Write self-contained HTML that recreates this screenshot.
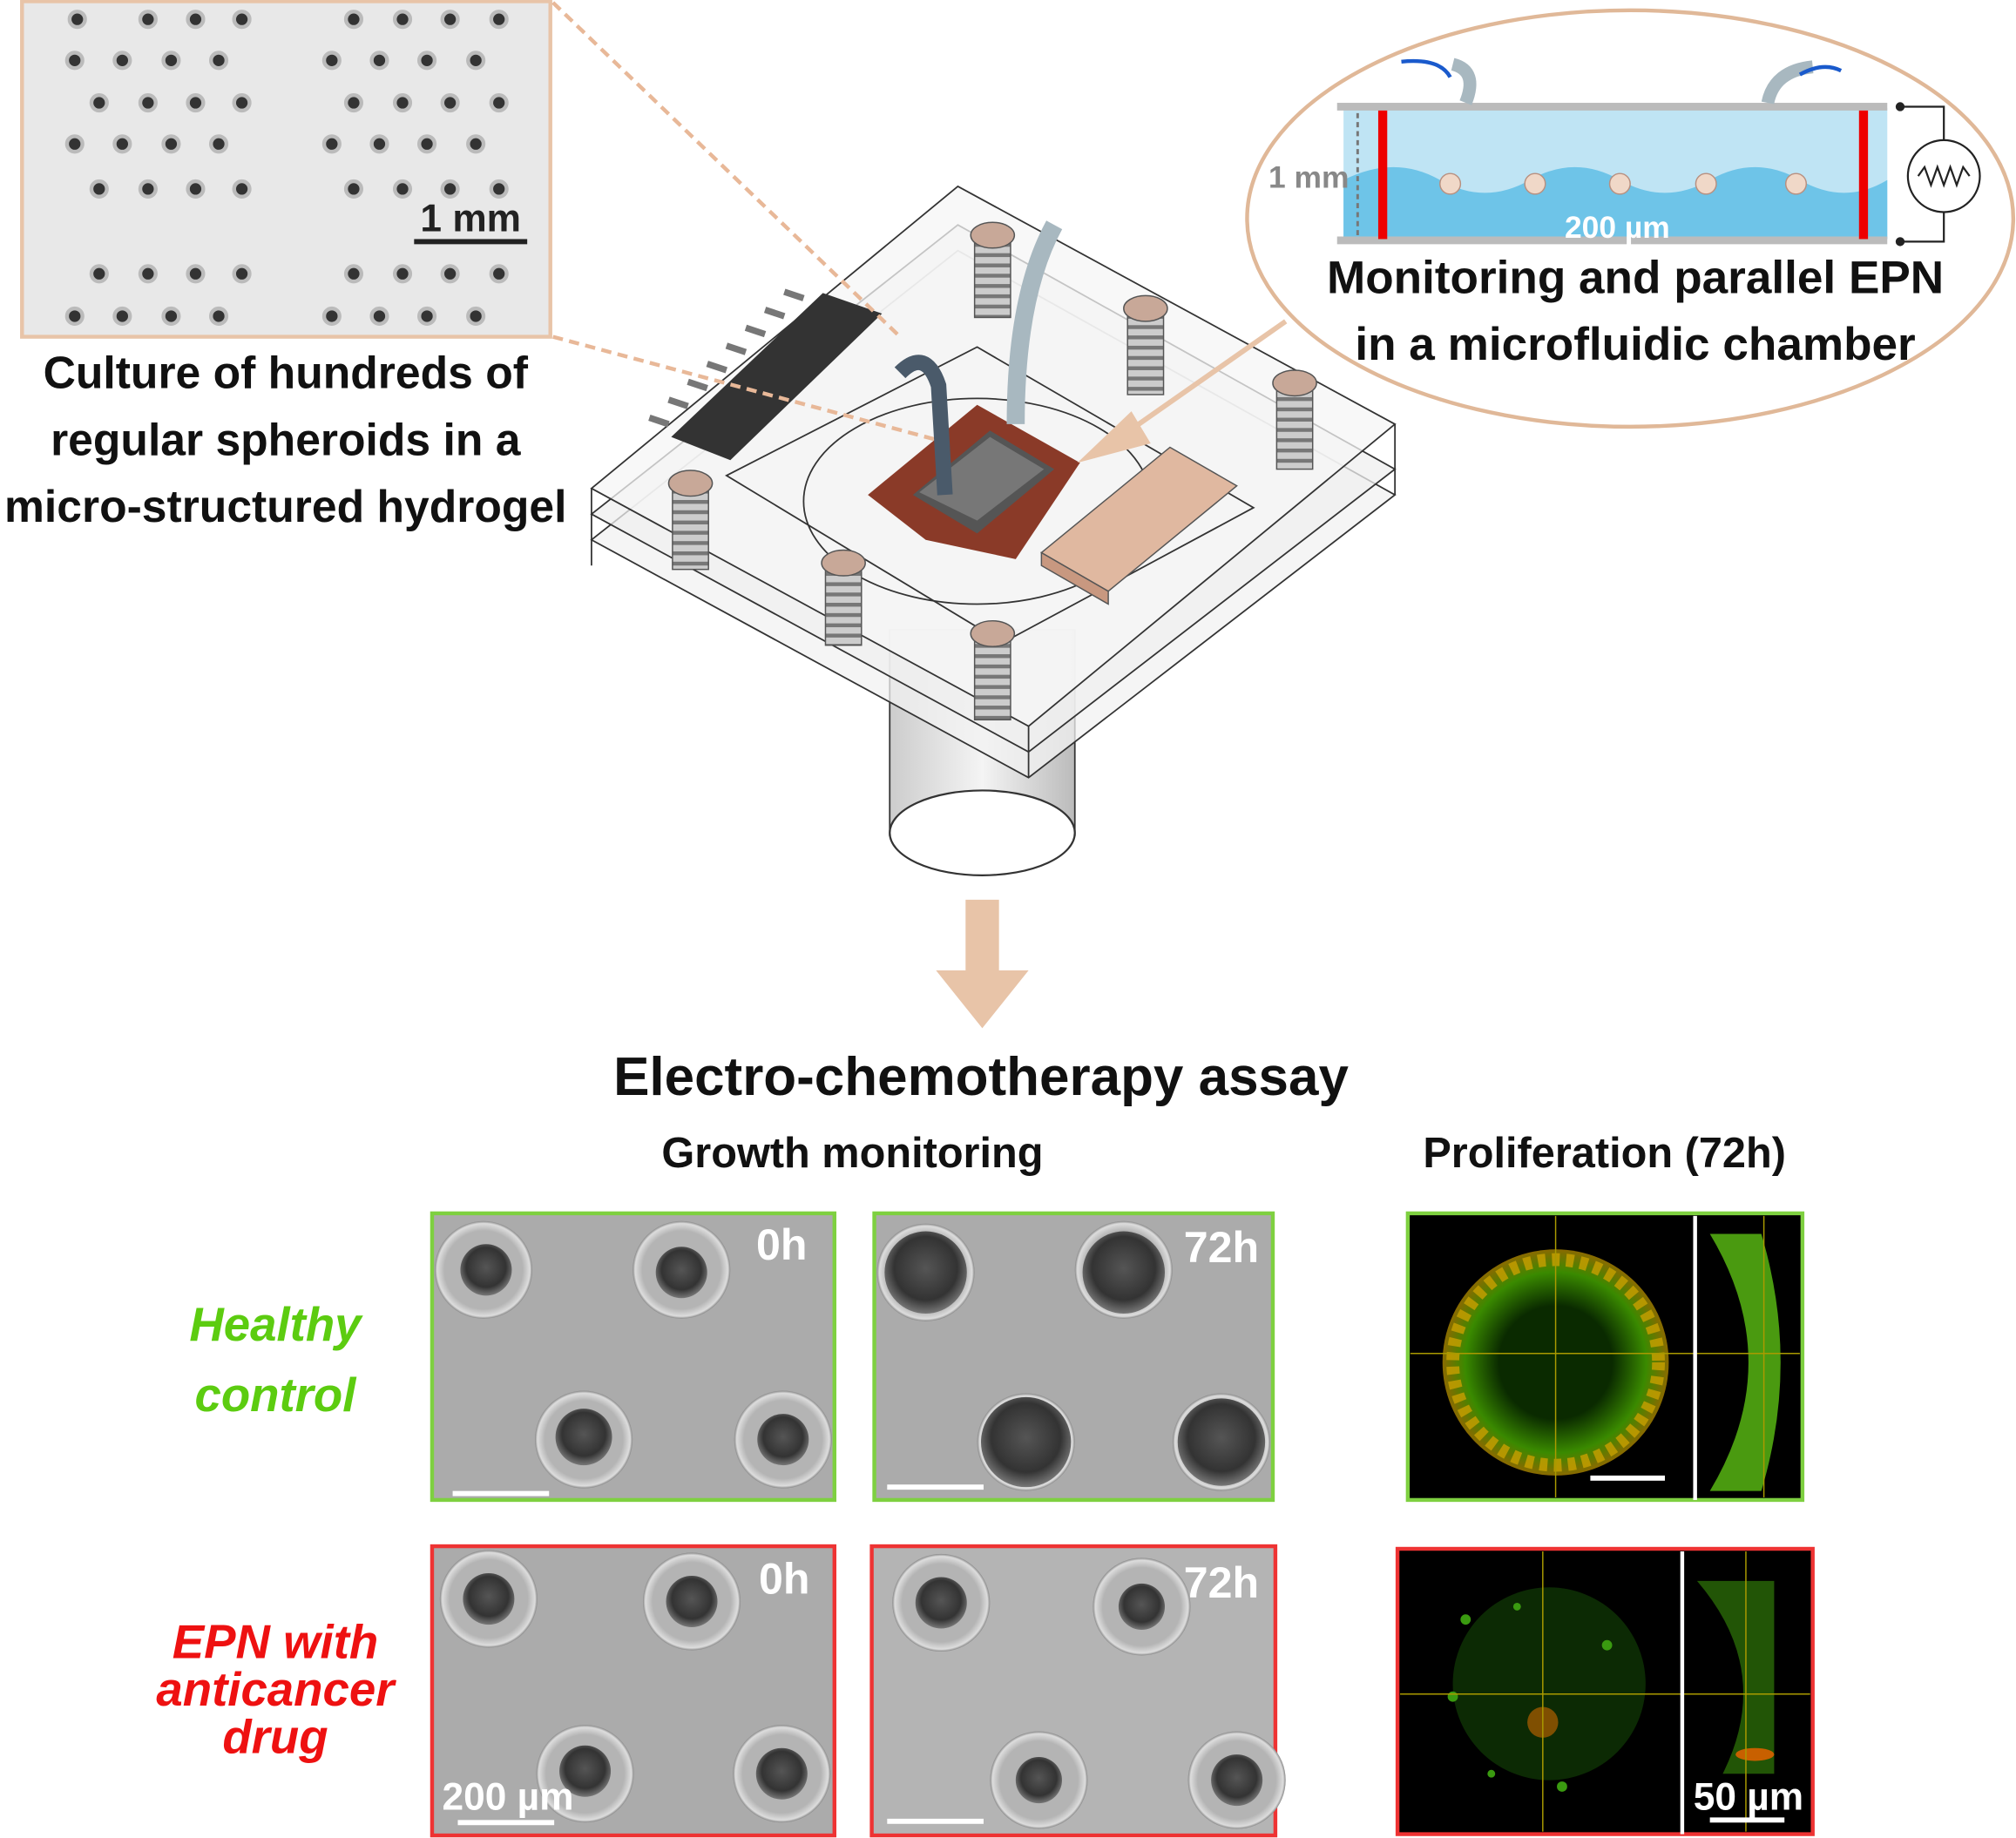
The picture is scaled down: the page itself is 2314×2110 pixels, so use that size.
<!DOCTYPE html>
<html><head><meta charset="utf-8"><style>
html,body{margin:0;padding:0;background:#fff;width:2314px;height:2110px;overflow:hidden}
svg{display:block}
text{font-family:"Liberation Sans","DejaVu Sans",sans-serif;font-weight:bold}
</style></head><body>
<svg width="2314" height="2110" viewBox="0 0 1568 1430" xmlns="http://www.w3.org/2000/svg">
<defs>
<radialGradient id="sph" cx="50%" cy="45%" r="55%"><stop offset="0" stop-color="#555"/><stop offset="0.7" stop-color="#333"/><stop offset="1" stop-color="#777"/></radialGradient>
<radialGradient id="well" cx="50%" cy="50%" r="50%"><stop offset="0.8" stop-color="#b4b4b4"/><stop offset="0.95" stop-color="#ddd"/><stop offset="1" stop-color="#888"/></radialGradient>
<linearGradient id="cyl" x1="0" x2="1"><stop offset="0" stop-color="#ccc"/><stop offset="0.5" stop-color="#f4f4f4"/><stop offset="1" stop-color="#bbb"/></linearGradient>
<radialGradient id="fl" cx="50%" cy="50%" r="50%"><stop offset="0.5" stop-color="#0a2a00"/><stop offset="0.8" stop-color="#3a8a00"/><stop offset="1" stop-color="#8a6a00"/></radialGradient>
<pattern id="scr" width="28" height="8" patternUnits="userSpaceOnUse"><rect width="28" height="8" fill="#ccc"/><rect y="5" width="28" height="3" fill="#777"/></pattern>
</defs>

<rect x="17" y="1" width="411" height="261" fill="#e8e8e8" stroke="#e8c4a8" stroke-width="3"/>
<g fill="#333" stroke="#bbb" stroke-width="3">
<circle cx="60" cy="15" r="6"/><circle cx="115" cy="15" r="6"/><circle cx="152" cy="15" r="6"/><circle cx="188" cy="15" r="6"/>
<circle cx="275" cy="15" r="6"/><circle cx="313" cy="15" r="6"/><circle cx="350" cy="15" r="6"/><circle cx="388" cy="15" r="6"/>
<circle cx="58" cy="47" r="6"/><circle cx="95" cy="47" r="6"/><circle cx="133" cy="47" r="6"/><circle cx="170" cy="47" r="6"/>
<circle cx="258" cy="47" r="6"/><circle cx="295" cy="47" r="6"/><circle cx="332" cy="47" r="6"/><circle cx="370" cy="47" r="6"/>
<circle cx="77" cy="80" r="6"/><circle cx="115" cy="80" r="6"/><circle cx="152" cy="80" r="6"/><circle cx="188" cy="80" r="6"/>
<circle cx="275" cy="80" r="6"/><circle cx="313" cy="80" r="6"/><circle cx="350" cy="80" r="6"/><circle cx="388" cy="80" r="6"/>
<circle cx="58" cy="112" r="6"/><circle cx="95" cy="112" r="6"/><circle cx="133" cy="112" r="6"/><circle cx="170" cy="112" r="6"/>
<circle cx="258" cy="112" r="6"/><circle cx="295" cy="112" r="6"/><circle cx="332" cy="112" r="6"/><circle cx="370" cy="112" r="6"/>
<circle cx="77" cy="147" r="6"/><circle cx="115" cy="147" r="6"/><circle cx="152" cy="147" r="6"/><circle cx="188" cy="147" r="6"/>
<circle cx="275" cy="147" r="6"/><circle cx="313" cy="147" r="6"/><circle cx="350" cy="147" r="6"/><circle cx="388" cy="147" r="6"/>
<circle cx="77" cy="213" r="6"/><circle cx="115" cy="213" r="6"/><circle cx="152" cy="213" r="6"/><circle cx="188" cy="213" r="6"/>
<circle cx="275" cy="213" r="6"/><circle cx="313" cy="213" r="6"/><circle cx="350" cy="213" r="6"/><circle cx="388" cy="213" r="6"/>
<circle cx="58" cy="246" r="6"/><circle cx="95" cy="246" r="6"/><circle cx="133" cy="246" r="6"/><circle cx="170" cy="246" r="6"/>
<circle cx="258" cy="246" r="6"/><circle cx="295" cy="246" r="6"/><circle cx="332" cy="246" r="6"/><circle cx="370" cy="246" r="6"/>
</g>
<text x="366" y="180" font-size="30" text-anchor="middle" fill="#222">1 mm</text>
<rect x="322" y="186" width="88" height="4" fill="#222"/>
<g font-size="35" text-anchor="middle" fill="#111">
<text x="222" y="302">Culture of hundreds of</text>
<text x="222" y="354">regular spheroids in a</text>
<text x="222" y="406">micro-structured hydrogel</text>
</g>

<rect x="692" y="490" width="144" height="160" fill="url(#cyl)" stroke="#333" stroke-width="1.2"/>
<ellipse cx="764" cy="648" rx="72" ry="33" fill="#fff" stroke="#333" stroke-width="1.5"/>
<g stroke="#333" stroke-width="1.2" fill-opacity="0.75">
<polygon points="460,420 745,195 1085,385 800,605" fill="#f2f2f2"/>
<polygon points="460,400 745,175 1085,365 800,585" fill="#efefef"/>
<polygon points="460,380 745,145 1085,330 800,565" fill="#f6f6f6"/>
</g>
<g stroke="#333" stroke-width="1.2" fill="none">
<line x1="460" y1="380" x2="460" y2="440"/><line x1="800" y1="565" x2="800" y2="605"/><line x1="1085" y1="330" x2="1085" y2="385"/>
<polygon points="565,370 760,270 975,395 780,500"/>
<ellipse cx="760" cy="390" rx="135" ry="80"/>
</g>
<polygon points="522,340 640,228 686,244 568,358" fill="#333"/>
<g stroke="#777" stroke-width="5">
<line x1="520" y1="330" x2="505" y2="325"/><line x1="535" y1="316" x2="520" y2="311"/><line x1="550" y1="302" x2="535" y2="297"/><line x1="565" y1="288" x2="550" y2="283"/><line x1="580" y1="274" x2="565" y2="269"/><line x1="595" y1="260" x2="580" y2="255"/><line x1="610" y1="246" x2="595" y2="241"/><line x1="625" y1="232" x2="610" y2="227"/>
</g>
<line x1="430" y1="2" x2="700" y2="262" stroke="#e8b898" stroke-width="3" stroke-dasharray="8,5"/>
<line x1="430" y1="262" x2="765" y2="352" stroke="#e8b898" stroke-width="3" stroke-dasharray="8,5"/>
<polygon points="675,385 760,315 840,360 790,435 720,420" fill="#8a3a28"/>
<polygon points="710,385 770,335 820,365 760,415" fill="#555"/>
<polygon points="715,383 770,340 812,365 760,405" fill="#777"/>
<path d="M700,290 Q720,270 730,300 L735,385" stroke="#4a5a6a" stroke-width="12" fill="none"/>
<path d="M820,175 Q790,230 790,330" stroke="#a8b8c0" stroke-width="14" fill="none"/>
<polygon points="810,430 910,348 962,378 862,460" fill="#e0b8a0" stroke="#555"/>
<polygon points="810,430 862,460 862,470 810,440" fill="#c89880" stroke="#555"/>
<g fill="#c8a898" stroke="#555" stroke-width="1">
<rect x="758" y="185" width="28" height="62" fill="url(#scr)"/><ellipse cx="772" cy="183" rx="17" ry="10"/>
<rect x="877" y="242" width="28" height="65" fill="url(#scr)"/><ellipse cx="891" cy="240" rx="17" ry="10"/>
<rect x="993" y="300" width="28" height="65" fill="url(#scr)"/><ellipse cx="1007" cy="298" rx="17" ry="10"/>
<rect x="523" y="378" width="28" height="65" fill="url(#scr)"/><ellipse cx="537" cy="376" rx="17" ry="10"/>
<rect x="642" y="440" width="28" height="62" fill="url(#scr)"/><ellipse cx="656" cy="438" rx="17" ry="10"/>
<rect x="758" y="495" width="28" height="65" fill="url(#scr)"/><ellipse cx="772" cy="493" rx="17" ry="10"/>
</g>
<line x1="1000" y1="250" x2="850" y2="355" stroke="#e8c4a8" stroke-width="4"/>
<polygon points="838,360 880,320 895,345" fill="#e8c4a8"/>

<ellipse cx="1268" cy="170" rx="298" ry="162" fill="#fff" stroke="#e0b898" stroke-width="3"/>
<rect x="1045" y="84" width="423" height="102" fill="#bfe4f4"/>
<path d="M1045,140 Q1085,120 1120,140 T1190,140 T1260,140 T1330,140 T1400,140 T1468,140 L1468,186 L1045,186 Z" fill="#6ec4e8"/>
<rect x="1040" y="80" width="428" height="6" fill="#bbb"/>
<rect x="1040" y="184" width="428" height="6" fill="#bbb"/>
<rect x="1072" y="86" width="7" height="100" fill="#e00"/>
<rect x="1446" y="86" width="7" height="100" fill="#e00"/>
<g fill="#f0d8c8" stroke="#b89080"><circle cx="1128" cy="143" r="8"/><circle cx="1194" cy="143" r="8"/><circle cx="1260" cy="143" r="8"/><circle cx="1327" cy="143" r="8"/><circle cx="1397" cy="143" r="8"/></g>
<path d="M1140,80 Q1150,55 1130,50" stroke="#a8b8c0" stroke-width="10" fill="none"/>
<path d="M1375,80 Q1380,55 1410,52" stroke="#a8b8c0" stroke-width="10" fill="none"/>
<path d="M1090,48 Q1120,45 1128,60" stroke="#1a5acc" stroke-width="3" fill="none"/>
<path d="M1400,58 Q1418,48 1432,55" stroke="#1a5acc" stroke-width="3" fill="none"/>
<line x1="1056" y1="88" x2="1056" y2="184" stroke="#777" stroke-width="2" stroke-dasharray="4,3"/>
<text x="1018" y="146" font-size="24" text-anchor="middle" fill="#888">1 mm</text>
<text x="1258" y="185" font-size="24" text-anchor="middle" fill="#fff">200 µm</text>
<g stroke="#222" stroke-width="1.5" fill="none">
<polyline points="1478,83 1512,83 1512,109"/><polyline points="1478,188 1512,188 1512,165"/>
<circle cx="1512" cy="137" r="28" fill="#fff"/>
<polyline points="1492,137 1497,130 1502,144 1507,130 1512,144 1517,130 1522,144 1527,130 1532,137"/>
</g>
<circle cx="1478" cy="83" r="3.5" fill="#222"/><circle cx="1478" cy="188" r="3.5" fill="#222"/>
<g font-size="36" text-anchor="middle" fill="#111">
<text x="1272" y="228">Monitoring and parallel EPN</text>
<text x="1272" y="280">in a microfluidic chamber</text>
</g>

<rect x="751" y="700" width="26" height="56" fill="#e8c4a8"/>
<polygon points="728,755 800,755 764,800" fill="#e8c4a8"/>

<text x="763" y="852" font-size="42" text-anchor="middle" fill="#111">Electro-chemotherapy assay</text>
<text x="663" y="908" font-size="33" text-anchor="middle" fill="#111">Growth monitoring</text>
<text x="1248" y="908" font-size="33" text-anchor="middle" fill="#111">Proliferation (72h)</text>

<g font-style="italic" font-size="37" text-anchor="middle">
<text x="214" y="1043" fill="#5ccc10">Healthy</text>
<text x="214" y="1098" fill="#5ccc10">control</text>
<text x="214" y="1290" fill="#ee1111">EPN with</text>
<text x="214" y="1327" fill="#ee1111">anticancer</text>
<text x="214" y="1364" fill="#ee1111">drug</text>
</g>

<rect x="336" y="944" width="313" height="223" fill="#ababab" stroke="#7ed040" stroke-width="3"/>
<circle cx="376" cy="988" r="38" fill="url(#well)"/><circle cx="378" cy="988" r="20" fill="url(#sph)"/>
<circle cx="530" cy="988" r="38" fill="url(#well)"/><circle cx="530" cy="990" r="20" fill="url(#sph)"/>
<circle cx="454" cy="1120" r="38" fill="url(#well)"/><circle cx="454" cy="1118" r="22" fill="url(#sph)"/>
<circle cx="609" cy="1120" r="38" fill="url(#well)"/><circle cx="609" cy="1120" r="20" fill="url(#sph)"/>
<rect x="352" y="1160" width="75" height="4" fill="#fff"/>
<text x="608" y="980" font-size="34" text-anchor="middle" fill="#fff">0h</text>

<rect x="680" y="944" width="310" height="223" fill="#ababab" stroke="#7ed040" stroke-width="3"/>
<circle cx="720" cy="990" r="38" fill="url(#well)"/><circle cx="720" cy="990" r="32" fill="url(#sph)"/>
<circle cx="874" cy="988" r="38" fill="url(#well)"/><circle cx="874" cy="990" r="32" fill="url(#sph)"/>
<circle cx="798" cy="1122" r="38" fill="url(#well)"/><circle cx="798" cy="1122" r="35" fill="url(#sph)"/>
<circle cx="950" cy="1122" r="38" fill="url(#well)"/><circle cx="950" cy="1122" r="34" fill="url(#sph)"/>
<rect x="690" y="1155" width="75" height="4" fill="#fff"/>
<text x="950" y="982" font-size="34" text-anchor="middle" fill="#fff">72h</text>

<rect x="336" y="1203" width="313" height="225" fill="#ababab" stroke="#ee3333" stroke-width="3"/>
<circle cx="380" cy="1244" r="38" fill="url(#well)"/><circle cx="380" cy="1244" r="20" fill="url(#sph)"/>
<circle cx="538" cy="1246" r="38" fill="url(#well)"/><circle cx="538" cy="1246" r="20" fill="url(#sph)"/>
<circle cx="455" cy="1380" r="38" fill="url(#well)"/><circle cx="455" cy="1378" r="20" fill="url(#sph)"/>
<circle cx="608" cy="1380" r="38" fill="url(#well)"/><circle cx="608" cy="1380" r="20" fill="url(#sph)"/>
<text x="610" y="1240" font-size="34" text-anchor="middle" fill="#fff">0h</text>
<text x="395" y="1408" font-size="30" text-anchor="middle" fill="#fff">200 µm</text>
<rect x="356" y="1416" width="75" height="4" fill="#fff"/>

<rect x="678" y="1203" width="314" height="225" fill="#b4b4b4" stroke="#ee3333" stroke-width="3"/>
<circle cx="732" cy="1247" r="38" fill="url(#well)"/><circle cx="732" cy="1247" r="20" fill="url(#sph)"/>
<circle cx="888" cy="1250" r="38" fill="url(#well)"/><circle cx="888" cy="1250" r="18" fill="url(#sph)"/>
<circle cx="808" cy="1385" r="38" fill="url(#well)"/><circle cx="808" cy="1385" r="18" fill="url(#sph)"/>
<circle cx="962" cy="1385" r="38" fill="url(#well)"/><circle cx="962" cy="1385" r="20" fill="url(#sph)"/>
<text x="950" y="1243" font-size="34" text-anchor="middle" fill="#fff">72h</text>
<rect x="690" y="1415" width="75" height="4" fill="#fff"/>

<rect x="1095" y="944" width="307" height="223" fill="#000" stroke="#7ed040" stroke-width="3"/>
<circle cx="1210" cy="1060" r="88" fill="url(#fl)"/>
<circle cx="1210" cy="1060" r="80" fill="none" stroke="#c8a000" stroke-width="10" stroke-dasharray="6,5" opacity="0.8"/>
<path d="M1330,960 Q1390,1060 1330,1160 L1370,1160 Q1400,1060 1370,960 Z" fill="#4a9a10"/>
<line x1="1210" y1="946" x2="1210" y2="1165" stroke="#aa9a00" stroke-width="1"/>
<line x1="1097" y1="1053" x2="1400" y2="1053" stroke="#aa9a00" stroke-width="1"/>
<line x1="1372" y1="946" x2="1372" y2="1165" stroke="#aa9a00" stroke-width="1"/>
<rect x="1317" y="946" width="3" height="221" fill="#fff"/>
<rect x="1237" y="1148" width="58" height="4" fill="#fff"/>

<rect x="1087" y="1205" width="323" height="222" fill="#000" stroke="#ee3333" stroke-width="3"/>
<circle cx="1205" cy="1310" r="75" fill="#0c2a04"/>
<g fill="#3a9a10"><circle cx="1140" cy="1260" r="4"/><circle cx="1130" cy="1320" r="4"/><circle cx="1180" cy="1250" r="3"/><circle cx="1250" cy="1280" r="4"/><circle cx="1215" cy="1390" r="4"/><circle cx="1160" cy="1380" r="3"/></g>
<circle cx="1200" cy="1340" r="12" fill="#b06000" opacity="0.7"/>
<path d="M1320,1230 Q1380,1300 1340,1380 L1380,1380 L1380,1230 Z" fill="#2a6a08" opacity="0.8"/>
<ellipse cx="1365" cy="1365" rx="15" ry="5" fill="#c86000"/>
<line x1="1200" y1="1207" x2="1200" y2="1425" stroke="#aa9a00" stroke-width="1"/>
<line x1="1089" y1="1318" x2="1408" y2="1318" stroke="#aa9a00" stroke-width="1"/>
<line x1="1358" y1="1207" x2="1358" y2="1425" stroke="#aa9a00" stroke-width="1"/>
<rect x="1307" y="1207" width="3" height="220" fill="#fff"/>
<text x="1360" y="1408" font-size="30" text-anchor="middle" fill="#fff">50 µm</text>
<rect x="1330" y="1414" width="58" height="4" fill="#fff"/>
</svg>
</body></html>
